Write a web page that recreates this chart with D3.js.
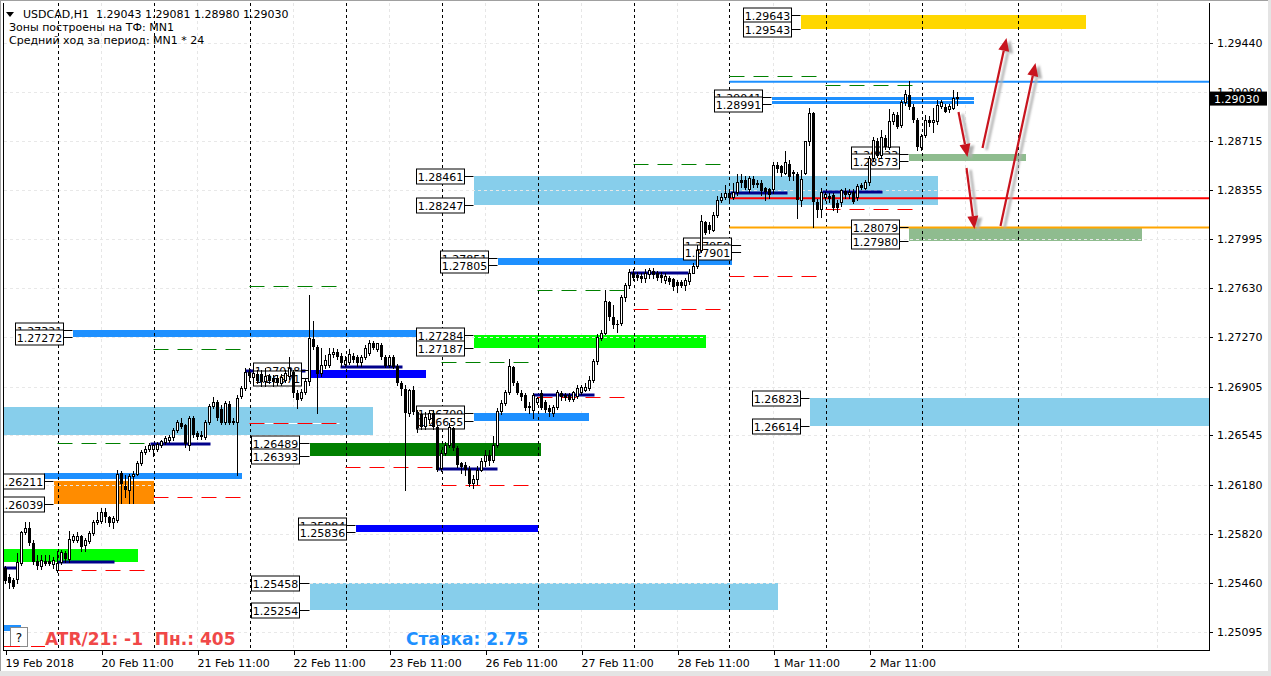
<!DOCTYPE html>
<html><head><meta charset="utf-8">
<script src="https://cdn.jsdelivr.net/npm/d3@7"></script>
<style>
html,body{margin:0;padding:0;background:#fff;overflow:hidden;}
svg{display:block;}
text{font-family:"DejaVu Sans",sans-serif;white-space:pre;}
</style></head><body>
<svg id="chart" width="1271" height="676"></svg>
<script>
// ---------- DATA ----------
// USDCAD H1, bar 0 = 19 Feb 2018 11:00  [open, high, low, close]
const ohlc = [
[1.2557,1.2558,1.2546,1.2547],[1.2550,1.2552,1.2542,1.2546],[1.2548,1.2549,1.2542,1.2543],[1.2548,1.2568,1.2546,1.2561],
[1.2560,1.2584,1.2559,1.2583],[1.2583,1.2591,1.2582,1.2586],[1.2586,1.2591,1.2574,1.2575],[1.2575,1.2577,1.2560,1.2561],
[1.2562,1.2566,1.2556,1.2558],[1.2558,1.2566,1.2556,1.2562],[1.2562,1.2566,1.2559,1.2560],[1.2562,1.2566,1.2559,1.2560],
[1.2559,1.2565,1.2557,1.2562],[1.2555,1.2569,1.2554,1.2560],[1.2561,1.2570,1.2560,1.2568],[1.2568,1.2569,1.2561,1.2563],
[1.2563,1.2584,1.2561,1.2578],[1.2577,1.2582,1.2576,1.2580],[1.2577,1.2583,1.2576,1.2580],[1.2580,1.2581,1.2569,1.2572],
[1.2573,1.2579,1.2569,1.2577],[1.2576,1.2584,1.2575,1.2582],[1.2582,1.2592,1.2581,1.2590],[1.2590,1.2598,1.2589,1.2592],
[1.2591,1.2601,1.2590,1.2598],[1.2598,1.2601,1.2591,1.2594],[1.2594,1.2595,1.2588,1.2590],[1.2590,1.2595,1.2586,1.2593],
[1.2592,1.2629,1.2591,1.2626],[1.2627,1.2628,1.2605,1.2619],[1.2617,1.2625,1.2609,1.2614],[1.2614,1.2626,1.2605,1.2624],
[1.2624,1.2628,1.2605,1.2626],[1.2626,1.2636,1.2625,1.2634],[1.2634,1.2644,1.2633,1.2642],[1.2642,1.2647,1.2641,1.2644],
[1.2644,1.2649,1.2643,1.2647],[1.2644,1.2648,1.2639,1.2647],[1.2644,1.2650,1.2643,1.2648],[1.2647,1.2651,1.2646,1.2650],
[1.2649,1.2654,1.2648,1.2652],[1.2651,1.2655,1.2650,1.2653],[1.2653,1.2660,1.2651,1.2658],[1.2658,1.2666,1.2657,1.2664],
[1.2664,1.2667,1.2660,1.2661],[1.2662,1.2663,1.2646,1.2648],[1.2647,1.2669,1.2644,1.2667],[1.2667,1.2669,1.2653,1.2655],
[1.2656,1.2658,1.2652,1.2653],[1.2655,1.2658,1.2652,1.2653],[1.2653,1.2666,1.2652,1.2664],[1.2664,1.2678,1.2663,1.2676],
[1.2676,1.2683,1.2675,1.2679],[1.2679,1.2681,1.2666,1.2667],[1.2674,1.2677,1.2663,1.2664],[1.2664,1.2680,1.2663,1.2678],
[1.2678,1.2680,1.2663,1.2664],[1.2665,1.2667,1.2663,1.2664],[1.2664,1.2684,1.2625,1.2682],[1.2683,1.2691,1.2682,1.2689],
[1.2689,1.2704,1.2688,1.2701],[1.2701,1.2704,1.2695,1.2698],[1.2697,1.2704,1.2693,1.2700],[1.2700,1.2703,1.2693,1.2695],
[1.2700,1.2703,1.2691,1.2694],[1.2694,1.2704,1.2691,1.2698],[1.2698,1.2700,1.2693,1.2695],[1.2697,1.2699,1.2691,1.2694],
[1.2697,1.2699,1.2692,1.2693],[1.2693,1.2700,1.2692,1.2697],[1.2695,1.2703,1.2694,1.2700],[1.2698,1.2712,1.2696,1.2704],
[1.2701,1.2703,1.2683,1.2686],[1.2686,1.2688,1.2675,1.2681],[1.2682,1.2689,1.2681,1.2686],[1.2686,1.2697,1.2685,1.2694],
[1.2694,1.2758,1.2692,1.2726],[1.2726,1.2739,1.2718,1.2720],[1.2720,1.2721,1.2671,1.2700],[1.2700,1.2719,1.2698,1.2706],
[1.2706,1.2714,1.2704,1.2710],[1.2706,1.2719,1.2705,1.2714],[1.2714,1.2719,1.2712,1.2716],[1.2716,1.2718,1.2711,1.2712],
[1.2713,1.2715,1.2706,1.2708],[1.2707,1.2713,1.2706,1.2710],[1.2708,1.2718,1.2707,1.2714],[1.2713,1.2715,1.2709,1.2710],
[1.2712,1.2714,1.2706,1.2708],[1.2708,1.2714,1.2706,1.2712],[1.2712,1.2721,1.2711,1.2719],[1.2715,1.2725,1.2714,1.2722],
[1.2723,1.2724,1.2718,1.2719],[1.2718,1.2723,1.2717,1.2722],[1.2721,1.2723,1.2711,1.2712],[1.2712,1.2714,1.2705,1.2706],
[1.2706,1.2714,1.2705,1.2712],[1.2712,1.2714,1.2704,1.2705],[1.2706,1.2707,1.2692,1.2693],[1.2693,1.2695,1.2684,1.2689],
[1.2689,1.2692,1.2614,1.2671],[1.2671,1.2689,1.2669,1.2688],[1.2688,1.2691,1.2670,1.2672],[1.2672,1.2673,1.2657,1.2660],
[1.2670,1.2671,1.2659,1.2661],[1.2661,1.2672,1.2659,1.2668],[1.2666,1.2673,1.2664,1.2671],[1.2671,1.2673,1.2659,1.2661],
[1.2661,1.2662,1.2628,1.2629],[1.2630,1.2644,1.2628,1.2641],[1.2641,1.2650,1.2640,1.2647],[1.2647,1.2664,1.2646,1.2660],
[1.2660,1.2661,1.2644,1.2645],[1.2645,1.2647,1.2631,1.2633],[1.2634,1.2635,1.2627,1.2631],[1.2633,1.2635,1.2625,1.2629],
[1.2630,1.2632,1.2617,1.2619],[1.2619,1.2625,1.2616,1.2622],[1.2622,1.2632,1.2619,1.2629],[1.2629,1.2638,1.2628,1.2635],
[1.2635,1.2644,1.2632,1.2640],[1.2640,1.2644,1.2633,1.2636],[1.2636,1.2654,1.2635,1.2647],[1.2647,1.2675,1.2646,1.2672],
[1.2672,1.2681,1.2670,1.2678],[1.2678,1.2688,1.2677,1.2686],[1.2686,1.2711,1.2685,1.2705],[1.2705,1.2706,1.2692,1.2693],
[1.2693,1.2695,1.2685,1.2686],[1.2686,1.2688,1.2681,1.2683],[1.2684,1.2686,1.2673,1.2675],[1.2675,1.2679,1.2671,1.2676],
[1.2673,1.2686,1.2667,1.2684],[1.2679,1.2683,1.2678,1.2682],[1.2686,1.2688,1.2674,1.2675],[1.2679,1.2681,1.2672,1.2673],
[1.2675,1.2677,1.2669,1.2672],[1.2671,1.2677,1.2669,1.2675],[1.2675,1.2688,1.2674,1.2686],[1.2686,1.2687,1.2681,1.2683],
[1.2684,1.2686,1.2681,1.2682],[1.2684,1.2686,1.2680,1.2681],[1.2681,1.2687,1.2680,1.2686],[1.2683,1.2692,1.2682,1.2689],
[1.2686,1.2692,1.2685,1.2690],[1.2688,1.2693,1.2687,1.2690],[1.2689,1.2698,1.2688,1.2695],[1.2695,1.2711,1.2694,1.2709],
[1.2709,1.2729,1.2707,1.2727],[1.2726,1.2732,1.2725,1.2730],[1.2730,1.2762,1.2729,1.2753],[1.2753,1.2754,1.2740,1.2742],
[1.2742,1.2751,1.2734,1.2736],[1.2737,1.2740,1.2731,1.2736],[1.2737,1.2758,1.2736,1.2756],[1.2756,1.2767,1.2754,1.2765],
[1.2765,1.2777,1.2763,1.2775],[1.2774,1.2777,1.2769,1.2771],[1.2773,1.2775,1.2769,1.2771],[1.2772,1.2774,1.2768,1.2770],
[1.2770,1.2777,1.2768,1.2774],[1.2773,1.2778,1.2771,1.2776],[1.2776,1.2778,1.2771,1.2773],[1.2774,1.2776,1.2769,1.2771],
[1.2773,1.2775,1.2768,1.2771],[1.2769,1.2774,1.2767,1.2772],[1.2771,1.2772,1.2766,1.2768],[1.2770,1.2771,1.2762,1.2764],
[1.2768,1.2769,1.2760,1.2765],[1.2768,1.2769,1.2764,1.2765],[1.2765,1.2771,1.2762,1.2769],[1.2768,1.2777,1.2766,1.2774],
[1.2774,1.2782,1.2774,1.2779],[1.2779,1.2795,1.2778,1.2791],[1.2791,1.2817,1.2790,1.2812],[1.2812,1.2813,1.2803,1.2804],
[1.2810,1.2812,1.2804,1.2806],[1.2806,1.2819,1.2805,1.2817],[1.2817,1.2831,1.2816,1.2828],[1.2828,1.2833,1.2827,1.2830],
[1.2830,1.2839,1.2829,1.2833],[1.2833,1.2836,1.2828,1.2830],[1.2830,1.2841,1.2829,1.2834],[1.2834,1.2847,1.2832,1.2841],
[1.2843,1.2847,1.2838,1.2841],[1.2843,1.2846,1.2836,1.2837],[1.2836,1.2846,1.2834,1.2844],[1.2844,1.2846,1.2838,1.2839],
[1.2841,1.2843,1.2838,1.2839],[1.2841,1.2843,1.2832,1.2835],[1.2837,1.2838,1.2828,1.2834],[1.2836,1.2837,1.2830,1.2832],
[1.2836,1.2856,1.2833,1.2854],[1.2854,1.2856,1.2849,1.2851],[1.2853,1.2854,1.2846,1.2848],[1.2848,1.2864,1.2847,1.2856],
[1.2855,1.2858,1.2843,1.2845],[1.2849,1.2850,1.2843,1.2847],[1.2847,1.2849,1.2815,1.2828],[1.2828,1.2850,1.2824,1.2843],
[1.2848,1.2872,1.2847,1.2871],[1.2871,1.2896,1.2869,1.2892],[1.2892,1.2893,1.2808,1.2827],[1.2827,1.2829,1.2816,1.2821],
[1.2821,1.2837,1.2816,1.2834],[1.2830,1.2834,1.2828,1.2832],[1.2831,1.2833,1.2827,1.2829],[1.2832,1.2833,1.2821,1.2822],
[1.2826,1.2828,1.2819,1.2822],[1.2826,1.2836,1.2824,1.2835],[1.2835,1.2837,1.2830,1.2832],[1.2832,1.2836,1.2830,1.2834],
[1.2834,1.2836,1.2826,1.2827],[1.2830,1.2840,1.2828,1.2838],[1.2839,1.2841,1.2836,1.2837],[1.2837,1.2843,1.2836,1.2841],
[1.2841,1.2861,1.2839,1.2859],[1.2859,1.2875,1.2858,1.2872],[1.2872,1.2874,1.2860,1.2861],[1.2861,1.2880,1.2860,1.2874],
[1.2874,1.2876,1.2866,1.2867],[1.2867,1.2895,1.2866,1.2886],[1.2886,1.2893,1.2884,1.2891],[1.2891,1.2893,1.2881,1.2882],
[1.2883,1.2902,1.2882,1.2900],[1.2900,1.2909,1.2898,1.2906],[1.2906,1.2916,1.2895,1.2897],[1.2897,1.2899,1.2886,1.2887],
[1.2887,1.2889,1.2865,1.2867],[1.2867,1.2877,1.2865,1.2875],[1.2876,1.2891,1.2875,1.2887],[1.2887,1.2890,1.2883,1.2885],
[1.2885,1.2896,1.2878,1.2887],[1.2886,1.2902,1.2884,1.2898],[1.2897,1.2902,1.2896,1.2900],[1.2897,1.2899,1.2893,1.2893],
[1.2895,1.2899,1.2893,1.2897],[1.2896,1.2909,1.2895,1.2903],[1.29043,1.29081,1.28980,1.29030]
];
const lastQuote = {open:1.29043, high:1.29081, low:1.28980, close:1.29030};

const priceTicks = [1.29440,1.29080,1.28715,1.28355,1.27995,1.27630,1.27270,1.26905,1.26545,1.26180,1.25820,1.25460,1.25095];
const timeTickIndex = [0,24,48,72,96,120,144,168,192,216];
const timeTickLabels = ["19 Feb 2018","20 Feb 11:00","21 Feb 11:00","22 Feb 11:00","23 Feb 11:00","26 Feb 11:00","27 Feb 11:00","28 Feb 11:00","1 Mar 11:00","2 Mar 11:00"];
const gridIndex = [24,48,72,96,120,144,168,192,216,240,264,288];
const separatorIndex = [13,37,61,85,109,133,157,181,205,229,253];

// zones: upper price, lower price, start bar, end bar, kind, labelled
const zones = [
 {hi:1.26755, lo:1.26548, from:-3,     to:91.75,  kind:"sky",     label:false},
 {hi:1.25707, lo:1.25611, from:-3,     to:33,     kind:"lime",    label:false},
 {hi:1.25146, lo:1.25102, from:-3,     to:3.75,   kind:"dodger",  label:false},
 {hi:1.26268, lo:1.26223, from:9.5,    to:59,     kind:"dodger",  label:false},
 {hi:1.26211, lo:1.26039, from:12,     to:37,     kind:"orange",  label:true},
 {hi:1.27321, lo:1.27272, from:16.75,  to:102.5,  kind:"dodger",  label:true},
 {hi:1.27028, lo:1.26971, from:76.25,  to:105,    kind:"blue",    label:true},
 {hi:1.26489, lo:1.26393, from:76,     to:133.75, kind:"green",   label:true},
 {hi:1.25458, lo:1.25254, from:76,     to:193,    kind:"sky",     label:true},
 {hi:1.25884, lo:1.25836, from:87.5,   to:133,    kind:"blue",    label:true},
 {hi:1.28461, lo:1.28247, from:117,    to:233,    kind:"sky",     label:true},
 {hi:1.27284, lo:1.27187, from:117,    to:175,    kind:"lime",    label:true},
 {hi:1.26709, lo:1.26655, from:117,    to:145.75, kind:"dodger",  label:true},
 {hi:1.27851, lo:1.27805, from:123,    to:181.5,  kind:"dodger",  label:true},
 {hi:1.27950, lo:1.27901, from:183.9,  to:183.9,  kind:"none",    label:true},
 {hi:1.29041, lo:1.28991, from:191.5,  to:242,    kind:"dodger2", label:true},
 {hi:1.29643, lo:1.29543, from:198.75, to:270,    kind:"gold",    label:true},
 {hi:1.26823, lo:1.26614, from:201,    to:400,    kind:"sky",     label:true},
 {hi:1.28623, lo:1.28573, from:225.75, to:255,    kind:"sage",    label:true},
 {hi:1.28079, lo:1.27980, from:225.75, to:284,    kind:"sage",    label:true}
];

// daily levels (start of each day)
const dayStart   = [13,37,61,85,109,133,157,181,205];
const dayLow     = [1.25552,1.26091,1.26637,1.26312,1.26179,1.26828,1.27477,1.27721,1.28215];
const dayHigh    = [1.26489,1.27182,1.27647,null,1.27087,1.27618,1.28547,1.29196,1.29130];
const dayOpenLevel = [
 {p:1.25567, from:-1,     to:2.75},
 {p:1.25611, from:13.25,  to:27.25},
 {p:1.26482, from:36.25,  to:51.25},
 {p:1.27020, from:60,     to:75},
 {p:1.27050, from:83.75,  to:99.25},
 {p:1.26297, from:108,    to:123},
 {p:1.26843, from:132,    to:147.25},
 {p:1.27743, from:156.25, to:170.75},
 {p:1.28333, from:181.25, to:195.5},
 {p:1.28341, from:204.25, to:219.25}
];
const rayLevels = [
 {p:1.29154, from:181, kind:"dodgerThin"},
 {p:1.28294, from:181, kind:"red"},
 {p:1.28079, from:181, kind:"orange"}
];
const arrows = [
 {from:[238.25,1.28931], to:[240.5,1.28599]},
 {from:[240.25,1.28518], to:[242.25,1.28068]},
 {from:[244.25,1.28665], to:[250.25,1.29477]},
 {from:[248.75,1.28090], to:[257.5,1.29292]}
];
const headerLines = ["Зоны построены на ТФ: MN1","Средний ход за период: MN1 * 24"];
const atrText = "ATR/21: -1  Пн.: 405";
const rateText = "Ставка: 2.75";

// ---------- STYLES ----------
const zoneFill = {sky:"#87CEEB", lime:"#00FF00", dodger:"#1E90FF", dodger2:"#1E90FF", orange:"#FF8C00",
                  blue:"#0000FF", green:"#008000", gold:"#FFD700", sage:"#8FBC8F", none:"none"};
const rayStyle = {dodgerThin:"#1E90FF", red:"#FF0000", orange:"#FFA500"};

// ---------- CHART ----------
const svg = d3.select("#chart");
const P = {l:4, t:3, r:1209, b:650};
const x = d3.scaleLinear().domain([0,238]).range([5.5,957.5]);
const y = d3.scaleLinear().domain([1.25095,1.29440]).range([632,43]);

svg.append("rect").attr("width",1271).attr("height",676).attr("fill","#fff");
svg.append("defs").append("clipPath").attr("id","pc")
  .append("rect").attr("x",P.l).attr("y",P.t).attr("width",P.r-P.l).attr("height",P.b-P.t);
const defs = svg.select("defs");
defs.append("filter").attr("id","sh").append("feGaussianBlur").attr("stdDeviation",1.2);

const g = svg.append("g").attr("clip-path","url(#pc)");

// vertical grid (under objects)
g.append("g").selectAll("line").data(gridIndex).join("line")
  .attr("x1",d=>x(d)).attr("x2",d=>x(d)).attr("y1",P.t).attr("y2",P.b)
  .attr("stroke","#e6e6e6").attr("stroke-dasharray","3,3");

// zones
const zg = g.append("g").attr("shape-rendering","crispEdges");
zones.filter(z=>z.kind!=="none").forEach(z=>{
  const x0 = x(z.from), x1 = Math.min(x(z.to), P.r+5);
  zg.append("rect").attr("x",x0).attr("y",y(z.hi)).attr("width",x1-x0)
    .attr("height",Math.max(1,y(z.lo)-y(z.hi))).attr("fill",zoneFill[z.kind]);
  if(z.kind==="dodger2"){
    const ym = Math.round((y(z.hi)+y(z.lo))/2)+0.5;
    zg.append("line").attr("x1",x0).attr("x2",x1).attr("y1",ym).attr("y2",ym).attr("stroke","#fff");
  }
});

// horizontal grid (over zones)
g.append("g").selectAll("line").data(priceTicks).join("line")
  .attr("x1",P.l).attr("x2",P.r).attr("y1",d=>Math.round(y(d))+0.5).attr("y2",d=>Math.round(y(d))+0.5)
  .attr("stroke","#e8e8e8").attr("stroke-dasharray","3,3");

// day separators
g.append("g").selectAll("line").data(separatorIndex).join("line")
  .attr("x1",d=>Math.round(x(d))+0.5).attr("x2",d=>Math.round(x(d))+0.5).attr("y1",P.t).attr("y2",P.b)
  .attr("stroke","#000").attr("stroke-dasharray","3,3");

// daily high / low dashed levels
function dashed(price, i0, i1, color){
  const yy = Math.round(y(price))+0.5;
  g.append("line").attr("x1",x(i0)).attr("x2",x(i1)).attr("y1",yy).attr("y2",yy).attr("stroke","#fff");
  g.append("line").attr("x1",x(i0)).attr("x2",x(i1)).attr("y1",yy).attr("y2",yy)
    .attr("stroke",color).attr("stroke-dasharray","15,9");
}
dayStart.forEach((s,k)=>{
  dashed(dayLow[k], s, s+22.5, "#FF0000");
  if(dayHigh[k]!==null) dashed(dayHigh[k], s, s+22.5, "#008000");
});

// day open levels (navy)
g.append("g").selectAll("line").data(dayOpenLevel).join("line")
  .attr("x1",d=>x(d.from)).attr("x2",d=>x(d.to)).attr("y1",d=>y(d.p)).attr("y2",d=>y(d.p))
  .attr("stroke","#00008B").attr("stroke-width",3);

// rays to right edge
g.append("g").selectAll("line").data(rayLevels).join("line")
  .attr("x1",d=>x(d.from)).attr("x2",P.r).attr("y1",d=>y(d.p)).attr("y2",d=>y(d.p))
  .attr("stroke",d=>rayStyle[d.kind]).attr("stroke-width",2);

// zone price labels
const lg = g.append("g");
zones.filter(z=>z.label).forEach(z=>{
  const xs = x(z.from), bR = Math.round(xs-10)+0.5, bL = bR-48;
  [z.hi, z.lo].forEach(p=>{
    const yy = Math.round(y(p))+0.5;
    lg.append("line").attr("x1",bR).attr("x2",xs).attr("y1",yy).attr("y2",yy).attr("stroke","#000");
    lg.append("rect").attr("x",bL).attr("y",yy-7.5).attr("width",48).attr("height",15)
      .attr("fill","#fff").attr("stroke","#000");
    lg.append("text").attr("x",bL+24).attr("y",yy+4.5).attr("text-anchor","middle")
      .attr("font-size",11).attr("fill","#000").text(p.toFixed(5));
  });
});

// candles
const bars = ohlc.map((d,i)=>({i,o:d[0],h:d[1],l:d[2],c:d[3]}));
const cg = g.append("g").attr("shape-rendering","crispEdges");
cg.selectAll("line").data(bars).join("line")
  .attr("x1",d=>x(d.i)).attr("x2",d=>x(d.i)).attr("y1",d=>y(d.h)).attr("y2",d=>y(d.l)+1)
  .attr("stroke","#000");
cg.selectAll("rect").data(bars).join("rect")
  .attr("x",d=>d.c>=d.o ? x(d.i)-1 : x(d.i)-1.5)
  .attr("width",d=>d.c>=d.o ? 2 : 3)
  .attr("y",d=>y(Math.max(d.o,d.c)))
  .attr("height",d=>Math.max(1,Math.abs(y(d.o)-y(d.c))))
  .attr("fill",d=>d.c>=d.o ? "#fff" : "#000")
  .attr("stroke",d=>d.c>=d.o ? "#000" : "none");

// arrows
const ag = g.append("g");
function arrowShape(a, dx, dy){
  const x0=x(a.from[0])+dx, y0=y(a.from[1])+dy, x1=x(a.to[0])+dx, y1=y(a.to[1])+dy;
  const len=Math.hypot(x1-x0,y1-y0), ux=(x1-x0)/len, uy=(y1-y0)/len, px=-uy, py=ux;
  const hl=13, hw=5.5, bx=x1-ux*hl, by=y1-uy*hl;
  return {line:[[x0,y0],[bx,by]], head:[[x1,y1],[bx+px*hw,by+py*hw],[bx-px*hw,by-py*hw]]};
}
arrows.forEach(a=>{
  const s = arrowShape(a,4,2);
  ag.append("path").attr("d",d3.line()(s.line)).attr("stroke","#b0b0b0").attr("stroke-width",2.5).attr("filter","url(#sh)");
  ag.append("path").attr("d",d3.line()(s.head)+"Z").attr("fill","#b0b0b0").attr("filter","url(#sh)");
});
arrows.forEach(a=>{
  const s = arrowShape(a,0,0);
  ag.append("path").attr("d",d3.line()(s.line)).attr("stroke","#C8141E").attr("stroke-width",2.2);
  ag.append("path").attr("d",d3.line()(s.head)+"Z").attr("fill","#C8141E");
});

// indicator panel bottom-left
g.append("rect").attr("x",10.5).attr("y",627.5).attr("width",17).attr("height",19).attr("fill","#fff").attr("stroke","#8a8a8a");
g.append("text").attr("x",19).attr("y",642).attr("text-anchor","middle").attr("font-size",12).text("?");
g.append("line").attr("x1",4).attr("x2",20).attr("y1",646.5).attr("y2",646.5).attr("stroke","#FF0000");
g.append("line").attr("x1",31).attr("x2",45).attr("y1",646.5).attr("y2",646.5).attr("stroke","#FF0000");
g.append("text").attr("x",45).attr("y",645).attr("font-family","Liberation Sans, Arial, sans-serif")
  .attr("font-weight","bold").attr("font-size",17).attr("fill","#F04848").text(atrText);
g.append("text").attr("x",406).attr("y",645).attr("font-family","Liberation Sans, Arial, sans-serif")
  .attr("font-weight","bold").attr("font-size",17).attr("fill","#1E90FF").text(rateText);

// frame & axes
svg.append("line").attr("x1",0).attr("x2",1271).attr("y1",0.5).attr("y2",0.5).attr("stroke","#a0a0a0");
svg.append("line").attr("x1",0.5).attr("x2",0.5).attr("y1",0).attr("y2",676).attr("stroke","#a0a0a0");
svg.append("line").attr("x1",P.l-0.5).attr("x2",P.l-0.5).attr("y1",P.t).attr("y2",P.b).attr("stroke","#000");
svg.append("line").attr("x1",P.r+0.5).attr("x2",P.r+0.5).attr("y1",P.t).attr("y2",P.b+1).attr("stroke","#000");
svg.append("line").attr("x1",P.l-1).attr("x2",P.r+1).attr("y1",P.b+0.5).attr("y2",P.b+0.5).attr("stroke","#000");
svg.append("rect").attr("x",0).attr("y",671).attr("width",1271).attr("height",5).attr("fill","#e4e4e4");
svg.append("rect").attr("x",1268).attr("y",0).attr("width",3).attr("height",676).attr("fill","#e4e4e4");

// price axis
const pa = svg.append("g");
pa.selectAll("line").data(priceTicks).join("line")
  .attr("x1",P.r).attr("x2",P.r+4).attr("y1",d=>Math.round(y(d))+0.5).attr("y2",d=>Math.round(y(d))+0.5).attr("stroke","#000");
pa.selectAll("text").data(priceTicks).join("text")
  .attr("x",1217).attr("y",d=>y(d)+4).attr("font-size",11).attr("fill","#000").text(d=>d.toFixed(5));
// current price tag
const cy = y(lastQuote.close);
svg.append("rect").attr("x",1210).attr("y",cy-7).attr("width",57).attr("height",14).attr("fill","#000");
svg.append("text").attr("x",1214).attr("y",cy+4).attr("font-size",11).attr("fill","#fff").text(lastQuote.close.toFixed(5));

// time axis
const ta = svg.append("g");
ta.selectAll("line").data(timeTickIndex).join("line")
  .attr("x1",d=>Math.round(x(d))+0.5).attr("x2",d=>Math.round(x(d))+0.5).attr("y1",P.b).attr("y2",P.b+5).attr("stroke","#000");
ta.selectAll("text").data(timeTickIndex).join("text")
  .attr("x",d=>x(d)).attr("y",667).attr("font-size",11).attr("fill","#000").text((d,k)=>timeTickLabels[k]);

// header
svg.append("path").attr("d","M6,12L14,12L10,17Z").attr("fill","#000");
svg.append("text").attr("x",23).attr("y",18).attr("font-size",11)
  .text("USDCAD,H1  "+[lastQuote.open,lastQuote.high,lastQuote.low,lastQuote.close].map(v=>v.toFixed(5)).join(" "));
headerLines.forEach((t,k)=>svg.append("text").attr("x",9).attr("y",31+13*k).attr("font-size",11).text(t));
</script>
</body></html>
